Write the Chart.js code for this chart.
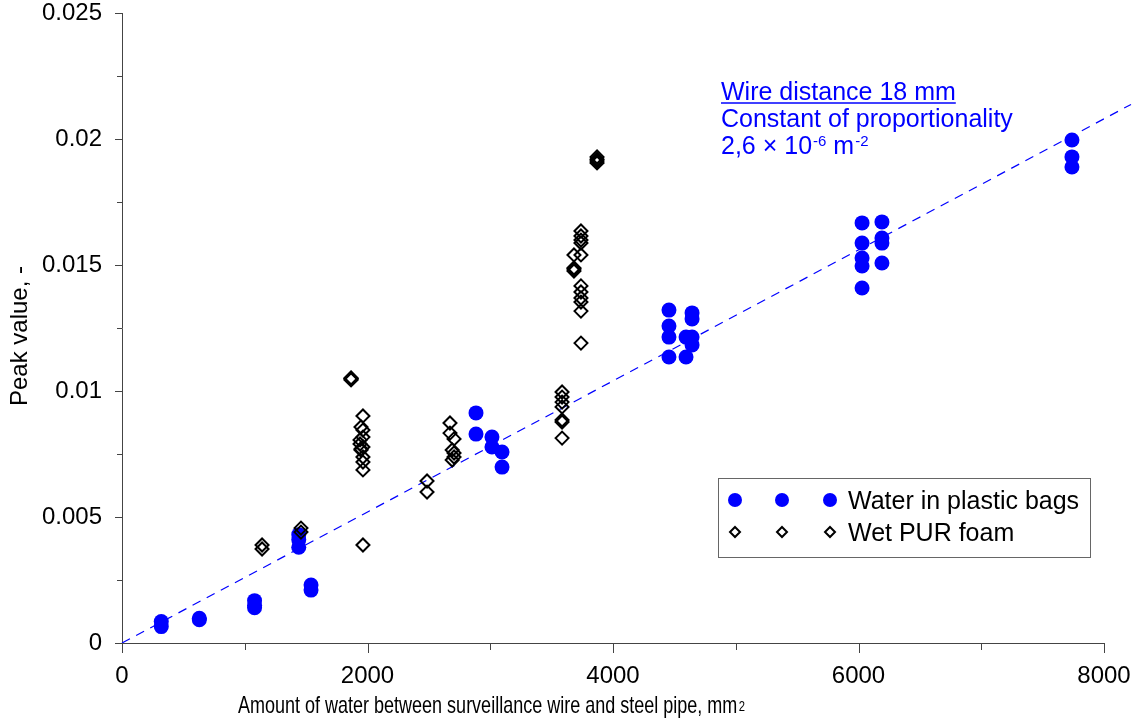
<!DOCTYPE html>
<html>
<head>
<meta charset="utf-8">
<title>Peak value vs amount of water</title>
<script src="https://cdn.jsdelivr.net/npm/chart.js@4/dist/chart.umd.min.js"></script>
<style>
  html, body { margin: 0; padding: 0; background: #ffffff; }
  #wrap { width: 1133px; height: 718px; }
</style>
</head>
<body>
<div id="wrap"><canvas id="chart" width="1133" height="718"></canvas></div>
<script>
// Water in plastic bags: amount of water (mm²) and measured peak value
const waterAmount = [
  320, 320, 630, 630, 1080, 1080, 1080, 1440, 1440, 1440, 1540, 1540,
  2884, 2884, 3014, 3014, 3096, 3096,
  4456, 4456, 4456, 4456, 4595, 4595, 4644, 4644, 4644, 4644,
  6029, 6029, 6029, 6029, 6029, 6191, 6191, 6191, 6191,
  7739, 7739, 7739
];
const waterPeak = [
  0.00085, 0.00065, 0.00098, 0.00092, 0.00168, 0.00150, 0.00140, 0.0043, 0.0041, 0.0038, 0.0023, 0.0021,
  0.00913, 0.00829, 0.00817, 0.00778, 0.00758, 0.00698,
  0.01321, 0.01258, 0.01214, 0.01135, 0.01214, 0.01135, 0.0131, 0.01286, 0.01214, 0.01183,
  0.01667, 0.01587, 0.01528, 0.01496, 0.01409, 0.01671, 0.01607, 0.01587, 0.01508,
  0.01996, 0.01929, 0.01889
];

// Wet PUR foam: amount of water (mm²) and measured peak value
const foamAmount = [
  1141, 1141, 1458, 1458,
  1866, 1866, 1866, 1866,
  1963, 1963, 1963, 1963, 1963, 1963, 1963, 1963, 1947, 1947, 1947, 1939, 1939,
  2485, 2485,
  2672, 2672, 2690, 2690, 2705, 2705, 2705,
  3585, 3585, 3585, 3585, 3585, 3585, 3585,
  3739, 3739, 3739, 3739, 3739, 3739, 3739, 3739, 3739, 3739, 3739,
  3682, 3682, 3682, 3682,
  3870, 3870, 3870, 3870
];
const foamPeak = [
  0.00389, 0.00373, 0.00456, 0.0044,
  0.01052, 0.01048, 0.01044, 0.0105,
  0.00901, 0.00845, 0.00817, 0.00778, 0.00738, 0.00718, 0.00687, 0.00389, 0.00857, 0.00766, 0.0077, 0.00806, 0.0079,
  0.00643, 0.00599,
  0.00873, 0.00833, 0.00766, 0.00726, 0.0081, 0.00754, 0.00738,
  0.00996, 0.00976, 0.00956, 0.00937, 0.00885, 0.00877, 0.00813,
  0.01635, 0.01615, 0.01599, 0.01587, 0.0154, 0.01417, 0.01393, 0.01369, 0.01353, 0.01317, 0.0119,
  0.0154, 0.01488, 0.01484, 0.01476,
  0.01929, 0.0192, 0.01913, 0.01905
];

// Proportional fit: peak = k * amount, k = 2.6e-6 per mm²
const proportionality = 2.6e-6;
const fitAmount = [0, 8220];

// Tick labels
const xTickLabels = ['0', '2000', '4000', '6000', '8000'];
const yTickLabels = ['0', '0.005', '0.01', '0.015', '0.02', '0.025'];

// Texts
const xTitle = 'Amount of water between surveillance wire and steel pipe, mm';
const xTitleSup = '2';
const yTitle = 'Peak value, -';
const noteLines = ['Wire distance 18 mm', 'Constant of proportionality'];
const seriesNames = ['Water in plastic bags', 'Wet PUR foam'];

const FONT = '"Liberation Sans", Arial, Helvetica, sans-serif';
const BLUE = '#0000ff';
const AXIS = '#444444';

const waterPoints = waterAmount.map((x, i) => ({ x, y: waterPeak[i] }));
const foamPoints = foamAmount.map((x, i) => ({ x, y: foamPeak[i] }));
const fitPoints = fitAmount.map(x => ({ x, y: proportionality * x }));

function diamond(ctx, x, y, r) {
  ctx.beginPath();
  ctx.moveTo(x, y - r);
  ctx.lineTo(x + r, y);
  ctx.lineTo(x, y + r);
  ctx.lineTo(x - r, y);
  ctx.closePath();
  ctx.stroke();
}

// Scales keep exactly the size given to them (no extra room for end labels)
function fixBox(size) {
  return s => {
    if (s.isHorizontal()) s.height = size; else s.width = size;
    s.paddingTop = 0;
    s.paddingBottom = 0;
    s.paddingLeft = 0;
    s.paddingRight = 0;
  };
}

// Tick marks (long at labelled values, short in between), titles, note and legend box
const decorations = {
  id: 'decorations',
  afterDraw(chart) {
    const ctx = chart.ctx;
    const xs = chart.scales.x, ys = chart.scales.y;
    const area = chart.chartArea;
    ctx.save();
    ctx.strokeStyle = AXIS;
    ctx.lineWidth = 1;
    xs.ticks.forEach(t => {
      const px = Math.round(xs.getPixelForValue(t.value)) + 0.5;
      const major = Math.round(t.value / 1000) % 2 === 0;
      ctx.beginPath();
      ctx.moveTo(px, area.bottom);
      ctx.lineTo(px, area.bottom + (major ? 10 : 7));
      ctx.stroke();
    });
    ys.ticks.forEach(t => {
      const py = Math.round(ys.getPixelForValue(t.value)) + 0.5;
      const major = Math.round(t.value / 0.0025) % 2 === 0;
      ctx.beginPath();
      ctx.moveTo(area.left - (major ? 7 : 5), py);
      ctx.lineTo(area.left, py);
      ctx.stroke();
    });

    // axis titles (x title set in a narrow face)
    ctx.fillStyle = '#000000';
    ctx.textAlign = 'left';
    ctx.textBaseline = 'alphabetic';
    ctx.save();
    ctx.translate(238, 713);
    ctx.scale(0.75, 1);
    ctx.font = '24px ' + FONT;
    ctx.fillText(xTitle, 0, 0);
    const tw = ctx.measureText(xTitle).width;
    ctx.font = '15px ' + FONT;
    ctx.fillText(xTitleSup, tw + 2, -2);
    ctx.restore();

    ctx.save();
    ctx.translate(27, 336);
    ctx.rotate(-Math.PI / 2);
    ctx.font = '24px ' + FONT;
    ctx.textAlign = 'center';
    ctx.fillText(yTitle, 0, 0);
    ctx.restore();

    // note on the fit
    ctx.fillStyle = BLUE;
    ctx.strokeStyle = BLUE;
    ctx.font = '25px ' + FONT;
    ctx.textAlign = 'left';
    const nx = 721;
    ctx.fillText(noteLines[0], nx, 100);
    const uw = ctx.measureText(noteLines[0]).width;
    ctx.lineWidth = 1.5;
    ctx.beginPath();
    ctx.moveTo(nx, 103);
    ctx.lineTo(nx + uw, 103);
    ctx.stroke();
    ctx.fillText(noteLines[1], nx, 127);
    let cx = nx;
    const parts = [['2,6 \u00d7 10', false], ['-6', true], [' m', false], ['-2', true]];
    parts.forEach(([s, sup]) => {
      ctx.font = (sup ? '15px ' : '25px ') + FONT;
      ctx.fillText(s, cx, sup ? 146 : 154);
      cx += ctx.measureText(s).width + (sup ? 0 : 1);
    });

    // legend box
    ctx.strokeStyle = '#666666';
    ctx.lineWidth = 1;
    ctx.strokeRect(718.5, 478.5, 372, 79);
    const markX = [735, 782, 830];
    ctx.fillStyle = BLUE;
    markX.forEach(mx => {
      ctx.beginPath();
      ctx.arc(mx, 500, 7, 0, Math.PI * 2);
      ctx.fill();
    });
    ctx.strokeStyle = '#000000';
    ctx.lineWidth = 2;
    markX.forEach(mx => diamond(ctx, mx, 532, 5));
    ctx.fillStyle = '#000000';
    ctx.font = '25px ' + FONT;
    ctx.fillText(seriesNames[0], 848, 509);
    ctx.fillText(seriesNames[1], 848, 541);
    ctx.restore();
  }
};

new Chart(document.getElementById('chart'), {
  type: 'scatter',
  data: {
    datasets: [
      {
        label: seriesNames[1],
        data: foamPoints,
        pointStyle: 'rectRot',
        pointRadius: 6.5,
        pointBorderWidth: 2,
        pointBorderColor: '#000000',
        pointBackgroundColor: 'rgba(0,0,0,0)',
        order: 1
      },
      {
        label: seriesNames[0],
        data: waterPoints,
        pointStyle: 'circle',
        pointRadius: 7.5,
        pointBorderWidth: 0,
        pointBackgroundColor: BLUE,
        pointBorderColor: BLUE,
        order: 2
      },
      {
        type: 'line',
        label: 'fit',
        data: fitPoints,
        borderColor: BLUE,
        borderWidth: 1.2,
        borderDash: [9, 7],
        pointRadius: 0,
        fill: false,
        clip: false,
        order: 3
      }
    ]
  },
  options: {
    responsive: false,
    devicePixelRatio: 1,
    animation: false,
    events: [],
    layout: { padding: { left: 0, top: 13, right: 29, bottom: 0 } },
    plugins: {
      legend: { display: false },
      tooltip: { enabled: false },
      title: { display: false }
    },
    scales: {
      x: {
        type: 'linear',
        min: 0,
        max: 8000,
        grid: { display: false, drawTicks: false },
        border: { display: true, color: AXIS, width: 1 },
        ticks: {
          stepSize: 1000,
          padding: 19,
          maxRotation: 0,
          autoSkip: false,
          color: '#000000',
          font: { family: FONT, size: 24 },
          callback: v => (Math.round(v / 1000) % 2 === 0 ? xTickLabels[Math.round(v / 2000)] : '')
        },
        afterFit: fixBox(75)
      },
      y: {
        type: 'linear',
        min: 0,
        max: 0.025,
        grid: { display: false, drawTicks: false },
        border: { display: true, color: AXIS, width: 1 },
        ticks: {
          stepSize: 0.0025,
          padding: 20,
          autoSkip: false,
          color: '#000000',
          font: { family: FONT, size: 24 },
          callback: v => (Math.round(v / 0.0025) % 2 === 0 ? yTickLabels[Math.round(v / 0.005)] : '')
        },
        afterFit: fixBox(122)
      }
    }
  },
  plugins: [decorations]
});
</script>
</body>
</html>
